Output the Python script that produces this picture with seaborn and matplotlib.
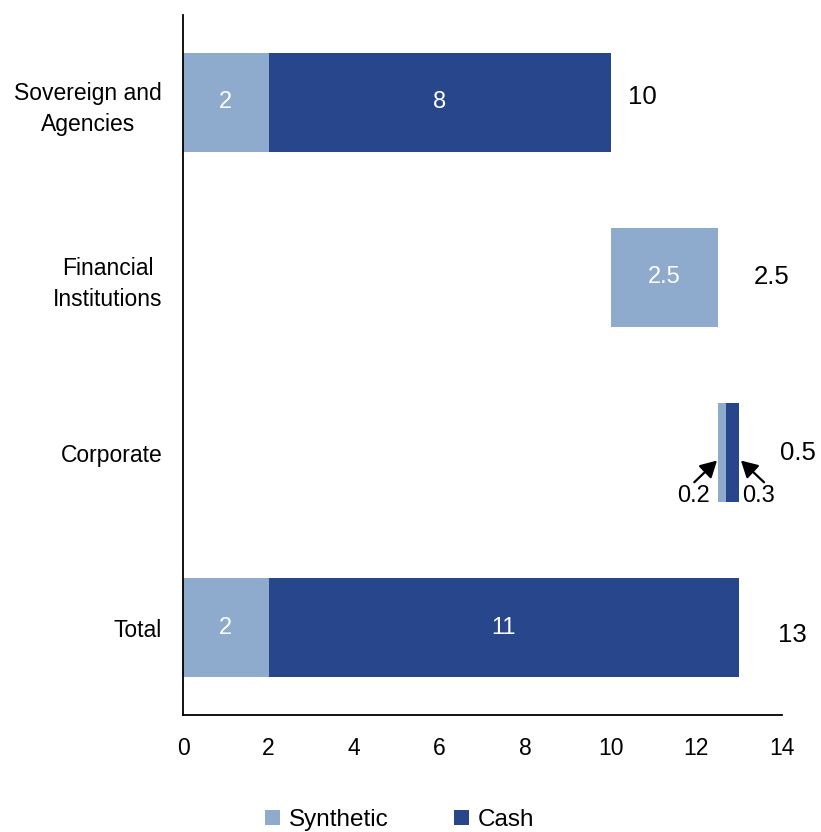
import matplotlib
matplotlib.use("Agg")
import matplotlib.pyplot as plt
import seaborn as sns
import pandas as pd
from matplotlib.patches import Patch

# ---- data ----
categories = ["Sovereign and\nAgencies", "Financial\nInstitutions", "Corporate", "Total"]
synthetic = [2, 2.5, 0.2, 2]
cash = [8, 0, 0.3, 11]
synthetic_start = [0, 10, 12.5, 0]
totals = [10, 2.5, 0.5, 13]
x_ticks = [0, 2, 4, 6, 8, 10, 12, 14]

# ---- style ----
C_SYN = "#8EAACC"
C_CASH = "#28468C"
FONT = "Liberation Sans"

sns.set_theme(style="white")
plt.rcParams["font.family"] = [FONT, "DejaVu Sans"]
plt.rcParams["text.color"] = "black"

cash_start = [s + v for s, v in zip(synthetic_start, synthetic)]
df_syn = pd.DataFrame({"category": categories, "value": synthetic, "left": synthetic_start})
df_cash = pd.DataFrame({"category": categories, "value": cash, "left": cash_start})

fig = plt.figure(figsize=(8.21, 8.32), dpi=100)
ax = fig.add_axes([0.2229, 0.1406, 0.7296, 0.8414])

sns.barplot(data=df_syn, y="category", x="value", orient="h", color=C_SYN,
            saturation=1, width=0.57, left=df_syn["left"].values, ax=ax,
            errorbar=None, order=categories, linewidth=0, edgecolor="none")
sns.barplot(data=df_cash, y="category", x="value", orient="h", color=C_CASH,
            saturation=1, width=0.57, left=df_cash["left"].values, ax=ax,
            errorbar=None, order=categories, linewidth=0, edgecolor="none")

ax.set_xlim(0, 14)
ax.set_ylim(3.5, -0.5)
ax.set_xticks(x_ticks)
ax.set_xticklabels([str(t) for t in x_ticks])
ax.set_xlabel("")
ax.set_ylabel("")
ax.tick_params(axis="x", length=0, pad=16, labelsize=16.5, colors="black")
ax.tick_params(axis="y", length=0, pad=15, labelsize=16.5, colors="black")
for lab in ax.get_yticklabels():
    lab.set_multialignment("center")
    lab.set_linespacing(1.45)

for side in ["top", "right"]:
    ax.spines[side].set_visible(False)
for side in ["left", "bottom"]:
    ax.spines[side].set_color("black")
    ax.spines[side].set_linewidth(1.3)

# inside labels (not for the tiny corporate bars)
for i, (s0, sv, cv) in enumerate(zip(synthetic_start, synthetic, cash)):
    if i == 2:
        continue
    if sv > 0:
        ax.text(s0 + sv / 2, i, f"{sv:g}", ha="center", va="center", color="white", fontsize=17)
    if cv > 0:
        ax.text(s0 + sv + cv / 2, i, f"{cv:g}", ha="center", va="center", color="white", fontsize=17)

# total labels
total_offsets = [0.4, 0.85, 0.95, 0.9]
total_dy = [-0.03, 0, 0, 0.04]
for i, t in enumerate(totals):
    end = synthetic_start[i] + synthetic[i] + cash[i]
    ax.text(end + total_offsets[i], i + total_dy[i], f"{t:g}", ha="left", va="center",
            color="black", fontsize=18.5)

# corporate small-value labels with arrows
arrow_kw = dict(arrowstyle="-|>,head_length=0.45,head_width=0.25", color="black",
                lw=1.6, mutation_scale=22, shrinkA=0, shrinkB=0)
syn_end = synthetic_start[2]
cash_end = cash_start[2] + cash[2]
ax.text(11.92, 2.25, f"{synthetic[2]:g}", ha="center", va="center", fontsize=17, color="black")
ax.annotate("", xy=(syn_end - 0.02, 2.046), xytext=(11.95, 2.17), arrowprops=arrow_kw)
ax.text(13.46, 2.25, f"{cash[2]:g}", ha="center", va="center", fontsize=17, color="black")
ax.annotate("", xy=(cash_end + 0.04, 2.046), xytext=(13.58, 2.17), arrowprops=arrow_kw)

handles = [Patch(facecolor=C_SYN, edgecolor="none", label="Synthetic"),
           Patch(facecolor=C_CASH, edgecolor="none", label="Cash")]
fig.legend(handles=handles, loc="center", bbox_to_anchor=(0.487, 0.0144), ncol=2,
           frameon=False, fontsize=17.5, handlelength=0.62, handleheight=0.62,
           handletextpad=0.35, columnspacing=2.7, labelcolor="black")

fig.savefig("out.png", dpi=100)
